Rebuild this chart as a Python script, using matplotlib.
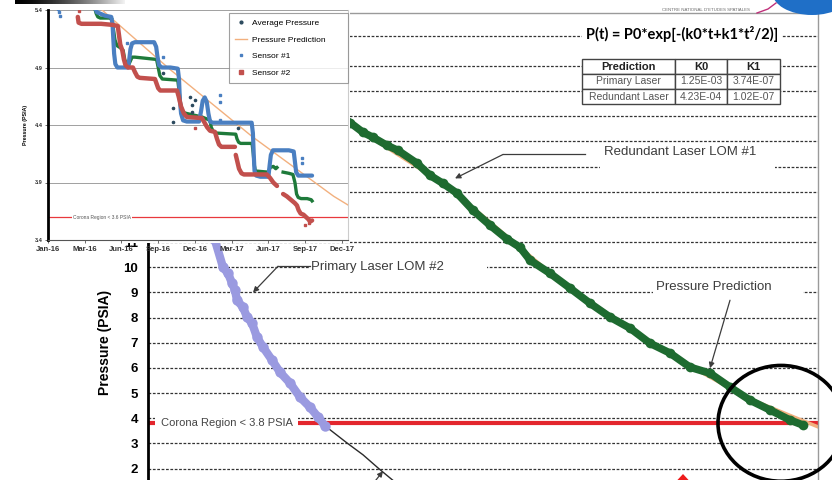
import numpy as np
import matplotlib
matplotlib.use("Agg")
import matplotlib.pyplot as plt
from matplotlib.lines import Line2D
from matplotlib.patches import Rectangle, Ellipse, Polygon

plt.rcParams['font.family'] = ['Liberation Sans', 'DejaVu Sans']

# ---------------- main chart: days since start vs pressure (PSIA) ----------------
primary_days = [104, 118, 134, 150, 160, 168, 174, 178, 190, 198, 208, 218, 230, 248, 264, 284, 304, 324, 340, 354]
primary_psi = [13.0, 12.0, 11.07, 10.0, 9.76, 9.37, 9.09, 8.69, 8.41, 8.02, 7.78, 7.22, 6.83, 6.31, 5.83, 5.40, 4.84, 4.44, 4.05, 3.70]

primary_pred_days = [354, 398, 430, 464, 492, 530]
primary_pred_psi = [3.70, 3.02, 2.55, 1.96, 1.50, 0.90]

redundant_days = [364, 404, 430, 450, 478, 500, 538, 564, 590, 618, 650, 684, 718, 744, 764,
                  804, 844, 884, 924, 964, 1004, 1044, 1084, 1124, 1164, 1204, 1244, 1284, 1310]
redundant_psi = [16.3, 15.75, 15.36, 15.16, 14.84, 14.64, 14.13, 13.65, 13.33, 12.94, 12.26, 11.67, 11.12, 10.79, 10.28,
                 9.76, 9.17, 8.57, 8.02, 7.58, 6.98, 6.59, 6.03, 5.79, 5.24, 4.72, 4.33, 3.93, 3.73]

redundant_pred_days = [364, 600, 800, 1000, 1200, 1340]
redundant_pred_psi = [16.2, 13.2, 9.85, 7.0, 4.8, 3.66]

corona_main = 3.8
main_yticks = list(range(2, 19))
main_ylabel_max = 11          # tick labels above this sit under the inset

# fit table
table_rows = ["Primary Laser", "Redundant Laser"]
table_k0 = ["1.25E-03", "4.23E-04"]
table_k1 = ["3.74E-07", "1.02E-07"]
table_header = ["Prediction", "K0", "K1"]

# ---------------- inset: telemetry, days since 1 Jan 2016 ----------------
inset_tick_days = [0, 90, 180, 270, 360, 450, 540, 630, 720]
inset_tick_labels = ["Jan-16", "Mar-16", "Jun-16", "Sep-16", "Dec-16", "Mar-17", "Jun-17", "Sep-17", "Dec-17"]
inset_yticks = [3.4, 3.9, 4.4, 4.9, 5.4]
corona_inset = 3.6

avg_days = [
    115, 118, 122, 128, 150, 157,
    160, 164, 169, 178, 184, 188,
    192, 197, 201, 206, 213, 240,
    266, 270, 274, 280, 318, 321,
    325, 330, 340, 377, 384, 397,
    400, 404, 412, 460, 463, 467,
    472, 500, 503, 505, 508, 540,
    544, 552, 558, 561, np.nan,
    576, 590, 600, 605, 609, 613,
    620, 635, 645, 647,
]
avg_psi = [
    5.41, 5.37, 5.34, 5.33, 5.33, 5.32,
    5.24, 5.14, 5.09, 5.07, 5.05, 4.97,
    4.93, 4.92, 4.95, 4.99, 4.99, 4.98,
    4.97, 4.90, 4.83, 4.80, 4.79, 4.70,
    4.58, 4.51, 4.50, 4.47, 4.46, 4.44,
    4.38, 4.35, 4.33, 4.32, 4.28, 4.25,
    4.24, 4.24, 4.15, 4.06, 4.00, 3.99,
    4.03, 4.04, 4.02, 4.03, np.nan,
    3.99, 3.98, 3.97, 3.90, 3.80, 3.77,
    3.76, 3.76, 3.75, 3.74,
]
avg_out_days = [282, 306, 306, 348, 353, 360, 353, 465]
avg_out_psi = [4.85, 4.55, 4.43, 4.64, 4.57, 4.62, 4.51, 4.37]

pred_days = [110, 200, 300, 400, 500, 600, 700, 737]
pred_psi = [5.47, 5.19, 4.88, 4.59, 4.30, 4.04, 3.78, 3.70]

s1_days = [
    115, 120, 127, 140, 155,
    158, 160, 162, 165, 170, 185, 196,
    199, 202, 206, 213, 240, 260,
    265, 268, 272, 279, 300, 318,
    321, 323, 326, 331, 340, 370,
    375, 379, 384, 389, 393, 397, 404, 450, 499,
    502, 504, 506, 510, 520, 540,
    543, 546, 551, 560, 590, 602,
    605, 608, 613, 647,
]
s1_psi = [
    5.42, 5.38, 5.37, 5.35, 5.34,
    5.28, 5.15, 5.02, 4.93, 4.90, 4.90, 4.90,
    4.97, 5.06, 5.11, 5.12, 5.12, 5.12,
    5.08, 5.00, 4.92, 4.90, 4.90, 4.89,
    4.80, 4.62, 4.50, 4.44, 4.43, 4.43,
    4.52, 4.61, 4.64, 4.60, 4.50, 4.43, 4.42, 4.42, 4.42,
    4.33, 4.15, 4.00, 3.96, 3.95, 3.95,
    4.05, 4.14, 4.18, 4.18, 4.18, 4.17,
    4.08, 3.99, 3.96, 3.96,
]
s1_out_days = [24, 27, 30, 193, 282, 421, 421, 421, 622, 622]
s1_out_psi = [5.41, 5.38, 5.35, 5.11, 4.99, 4.66, 4.60, 4.44, 4.11, 4.07]

s2_days = [
    73, 75, 82, 100, 130, 160, 171,
    174, 177, 182, 186, 190, 196, 208,
    213, 219, 225, 262, 266, 270, 275,
    316, 320, 326, 333, 340, 377,
    382, 390, 397, 409, 414, 419, 425, 458, np.nan,
    460, 464, 468, 474, 480, 536,
    544, 552, 561, np.nan,
    576, 585, 595, 605, 610, 614,
    619, 626, 632, 638, 642, 647,
]
s2_psi = [
    5.34, 5.29, 5.28, 5.28, 5.28, 5.27, 5.26,
    5.18, 5.10, 5.05, 4.97, 4.92, 4.90, 4.90,
    4.86, 4.82, 4.81, 4.80, 4.76, 4.72, 4.70,
    4.70, 4.65, 4.56, 4.50, 4.47, 4.46,
    4.43, 4.38, 4.35, 4.34, 4.28, 4.23, 4.21, 4.21, np.nan,
    4.14, 4.08, 4.02, 3.98, 3.97, 3.97,
    3.94, 3.90, 3.87, np.nan,
    3.80, 3.78, 3.75, 3.72, 3.70, 3.66,
    3.63, 3.62, 3.60, 3.58, 3.56, 3.57,
]
s2_out_days = [76, 360, 630, 640]
s2_out_psi = [5.39, 4.37, 3.53, 3.55]

# ---------------- styling ----------------
C_PRIMARY = '#9a9ae0'
C_REDUNDANT = '#1e6b30'
C_PRED = '#f2b07e'
C_CORONA = '#e3262d'
C_S1 = '#4a7fc1'
C_S2 = '#c2504d'
C_AVG = '#1e7a3a'
C_NOTE = '#3c3c3c'
GRID_LS = (0, (2.2, 1.3))

W, H = 832, 480
fig = plt.figure(figsize=(W / 100, H / 100), dpi=100)
fig.patch.set_facecolor('white')


def fx(px):
    return px / W


def fy(py):
    return 1 - py / H


# ---------------- main axes ----------------
ax = fig.add_axes([fx(148), fy(519), fx(818) - fx(148), (519 - 13) / H])
ax.set_zorder(1)
ax.set_xlim(0, 1340)
ax.set_ylim(0, 20.1)
ax.set_xticks([])
ax.set_yticks(main_yticks)
ax.set_yticklabels([str(v) if v <= main_ylabel_max else "" for v in main_yticks])
ax.tick_params(axis='y', length=0, pad=7, labelsize=9.5)
for lab in ax.get_yticklabels():
    lab.set_fontweight('bold')
ax.set_ylabel("Pressure (PSIA)", fontsize=10, fontweight='bold')
ax.yaxis.set_label_coords(-36 / 670, (519 - 342) / 506)
ax.yaxis.grid(True, linestyle=GRID_LS, color='#333333', lw=0.9, zorder=0)
ax.set_axisbelow(True)
ax.axhline(19.2, linestyle=GRID_LS, color='#333333', lw=0.9, zorder=0.5)
for s in ('top', 'right'):
    ax.spines[s].set_color('#9a9a9a')
    ax.spines[s].set_linewidth(1.0)
ax.spines['left'].set_linewidth(2.0)
ax.spines['left'].set_color('black')
ax.spines['bottom'].set_visible(False)

ax.axhline(corona_main, color=C_CORONA, lw=3.0, zorder=1)

ax.plot(redundant_pred_days, redundant_pred_psi, color=C_PRED, lw=2.5, zorder=2)
ax.plot(redundant_days, redundant_psi, color=C_REDUNDANT, lw=5.5, marker='o', ms=7, mew=0,
        solid_joinstyle='round', solid_capstyle='round', zorder=3)
ax.plot(primary_pred_days, primary_pred_psi, color='#2a2a2a', lw=1.0, zorder=2, clip_on=False)
ax.plot(primary_days, primary_psi, color=C_PRIMARY, lw=6, marker='o', ms=7.5, mew=0,
        solid_joinstyle='round', solid_capstyle='round', zorder=3)


def white_box(x0, y0, x1, y1):
    ax.add_patch(Rectangle((x0, y0), x1 - x0, y1 - y0, facecolor='white', edgecolor='none', zorder=1.5))


arrow_kw = dict(arrowstyle='-|>', color=C_NOTE, lw=0.9, mutation_scale=8, shrinkA=0, shrinkB=0)

# Primary laser label
white_box(324, 9.6, 678, 10.4)
ax.text(458, 10.0, "Primary Laser LOM #2", fontsize=9.5, color=C_NOTE, ha='center', va='center', zorder=5)
ax.plot([324, 260], [10.04, 10.04], color=C_NOTE, lw=0.9, zorder=4)
ax.annotate("", xy=(210, 9.0), xytext=(260, 10.04), arrowprops=arrow_kw, zorder=4)

# Redundant laser label
white_box(904, 13.85, 1254, 14.88)
ax.text(1064, 14.56, "Redundant Laser LOM #1", fontsize=9.5, color=C_NOTE, ha='center', va='center', zorder=5)
ax.plot([874, 710], [14.48, 14.48], color=C_NOTE, lw=0.9, zorder=4)
ax.annotate("", xy=(614, 13.53), xytext=(710, 14.48), arrowprops=arrow_kw, zorder=4)

# Prediction label
white_box(1010, 8.81, 1310, 9.56)
ax.text(1132, 9.2, "Pressure Prediction", fontsize=9.5, color=C_NOTE, ha='center', va='center', zorder=5)
ax.annotate("", xy=(1124, 5.99), xytext=(1164, 8.69), arrowprops=arrow_kw, zorder=4)

# Corona label
white_box(14, 3.45, 300, 4.15)
ax.text(157, 3.8, "Corona Region < 3.8 PSIA", fontsize=8, color='#444444', ha='center', va='center', zorder=5)

# pointer near the bottom edge
ax.annotate("", xy=(470, 1.9), xytext=(446, 1.3), arrowprops=arrow_kw, zorder=4, annotation_clip=False)

# formula
ax.text(1068, 19.25, "P(t) = P0*exp[-(k0*t+k1*t\u00b2/2)]", fontsize=10.5, fontweight='bold',
        family=['Lato', 'Liberation Sans', 'DejaVu Sans'], ha='center', va='center', zorder=5,
        bbox=dict(facecolor='white', edgecolor='none', pad=2.5))

# circle highlighting the end of the redundant trace
ax.add_patch(Ellipse((1266, 3.8), 252, 4.6, fill=False, lw=2.6, edgecolor='black', zorder=6, clip_on=False))

# ---------------- table ----------------
tax = fig.add_axes([fx(582), fy(104), fx(780) - fx(582), (104 - 59) / H])
tax.set_zorder(4)
tax.axis('off')
cell_text = [[r, a, b] for r, a, b in zip(table_rows, table_k0, table_k1)]
tbl = tax.table(cellText=cell_text, colLabels=table_header, cellLoc='center',
                colWidths=[93 / 198, 52 / 198, 53 / 198], bbox=[0, 0, 1, 1])
tbl.auto_set_font_size(False)
for (r, c), cell in tbl.get_celld().items():
    cell.set_edgecolor('#444444')
    cell.set_linewidth(1.0)
    cell.set_facecolor('white')
    if r == 0:
        cell.get_text().set_fontweight('bold')
        cell.get_text().set_fontsize(8)
        cell.get_text().set_color('#222222')
    else:
        cell.get_text().set_fontsize(7.5)
        cell.get_text().set_color('#555555')

# ---------------- inset ----------------
panel = Rectangle((0, fy(243)), fx(350), 1 - fy(243), transform=fig.transFigure,
                  facecolor='white', edgecolor='none', zorder=2)
fig.add_artist(panel)

axi = fig.add_axes([fx(48), fy(240), fx(348) - fx(48), (240 - 10) / H])
axi.set_zorder(3)
axi.set_facecolor('white')
axi.set_xlim(0, 735)
axi.set_ylim(3.4, 5.4)
axi.set_xticks(inset_tick_days)
axi.set_xticklabels(inset_tick_labels, fontsize=5.5, fontweight='bold', color='#333333')
axi.set_yticks(inset_yticks)
axi.set_yticklabels([f"{v:.1f}" for v in inset_yticks], fontsize=4, fontweight='bold', color='#333333')
axi.tick_params(axis='both', length=2, width=0.6, pad=2, color='#555555')
axi.yaxis.grid(True, color='#a0a0a0', lw=0.7)
axi.set_axisbelow(True)
axi.spines['left'].set_linewidth(2.0)
axi.spines['left'].set_color('black')
axi.spines['bottom'].set_color('#555555')
axi.spines['bottom'].set_linewidth(0.8)
axi.spines['right'].set_color('#cccccc')
axi.spines['right'].set_linewidth(0.8)
axi.spines['top'].set_visible(False)
axi.set_ylabel("Pressure (PSIA)", fontsize=3.8, fontweight='bold')
axi.yaxis.set_label_coords(-20 / 300, 0.5)

axi.axhline(corona_inset, color='#e8383d', lw=0.9, zorder=1)
axi.text(132, corona_inset, "Corona Region < 3.6 PSIA", fontsize=3.5, color='#555555', ha='center', va='center',
         zorder=2, bbox=dict(facecolor='white', edgecolor='none', pad=0.6))

axi.plot(avg_days, avg_psi, color=C_AVG, lw=2.4, solid_joinstyle='round', zorder=3)
axi.plot(pred_days, pred_psi, color=C_PRED, lw=1.0, zorder=4)
axi.plot(s1_days, s1_psi, color=C_S1, lw=3.0, solid_joinstyle='round', solid_capstyle='round', zorder=5)
axi.plot(s2_days, s2_psi, color=C_S2, lw=3.2, solid_joinstyle='round', solid_capstyle='round', zorder=6)
axi.plot(avg_out_days, avg_out_psi, ls='none', marker='o', ms=1.6, color='#2c4a5e', zorder=5)
axi.plot(s1_out_days, s1_out_psi, ls='none', marker='s', ms=1.8, color=C_S1, zorder=5)
axi.plot(s2_out_days, s2_out_psi, ls='none', marker='s', ms=2.0, color=C_S2, zorder=6)

handles = [
    Line2D([], [], ls='none', marker='o', ms=2, color='#2c4a5e'),
    Line2D([], [], color=C_PRED, lw=1.0),
    Line2D([], [], ls='none', marker='s', ms=2, color=C_S1),
    Line2D([], [], ls='none', marker='s', ms=2.5, color=C_S2),
]
labels = ["Average Pressure", "Pressure Prediction", "Sensor #1", "Sensor #2"]
leg = axi.legend(handles, labels, loc='upper left',
                 bbox_to_anchor=((229 - 48) / 300, 0.0, (348 - 229) / 300, (240 - 13) / 230),
                 mode='expand', fontsize=6, frameon=True, fancybox=False, edgecolor='#888888',
                 borderpad=0.75, labelspacing=1.05, handlelength=1.4, handletextpad=0.6, borderaxespad=0)
leg.get_frame().set_linewidth(0.8)

# ---------------- header decorations ----------------
gax = fig.add_axes([fx(15), fy(4), fx(125) - fx(15), 4 / H])
gax.set_zorder(5)
gax.imshow(np.linspace(0, 1, 256)[None, :] ** 1.5, cmap='gray', aspect='auto', vmin=0, vmax=1.05)
gax.axis('off')

fig.text(fx(706), fy(10), "CENTRE NATIONAL D'ETUDES SPATIALES", fontsize=3.2, color='#6a6a6a',
         ha='center', va='center', zorder=5)
fig.add_artist(Ellipse((fx(812), fy(-8)), 80 / W, 46 / H, transform=fig.transFigure,
                       facecolor='#1f6fc7', edgecolor='none', zorder=5))
fig.add_artist(Line2D([fx(757), fx(768), fx(776)], [fy(13), fy(9), fy(3)], transform=fig.transFigure,
                      color='#c0307a', lw=1.0, zorder=5))

# red pointer at the bottom edge
fig.add_artist(Polygon([(fx(683), fy(474)), (fx(670), fy(488)), (fx(696), fy(488))],
                       closed=True, transform=fig.transFigure, facecolor='#ee1c1c', edgecolor='none', zorder=6))

fig.savefig("out.png", dpi=100, facecolor='white')
